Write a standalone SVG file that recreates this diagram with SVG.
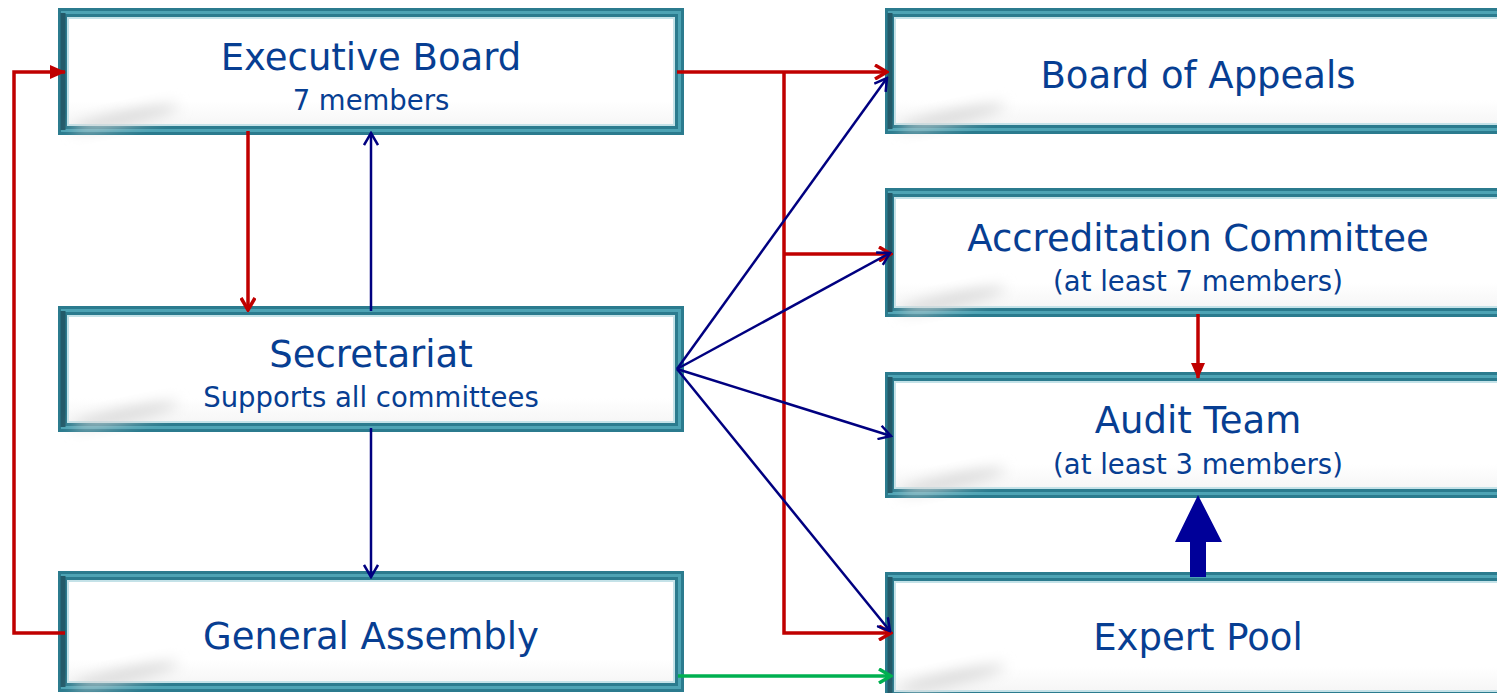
<svg xmlns="http://www.w3.org/2000/svg" width="1497" height="693" viewBox="0 0 1497 693">
<style>
.frame{fill:url(#inner);stroke:#2b7b8e;stroke-width:9}
.mid{fill:none;stroke:#4da3b4;stroke-width:3}
.edge{fill:none;stroke:#235a69;stroke-width:5}
.hl{fill:none;stroke:#c4e2e8;stroke-width:2}
.sh{fill:#d6d6d6;filter:url(#blur)}
.t1{font-family:"DejaVu Sans",Verdana,sans-serif;font-size:37px;fill:#073e92;text-anchor:middle}
.t2{font-family:"DejaVu Sans",Verdana,sans-serif;font-size:27.5px;fill:#073e92;text-anchor:middle}
.red{fill:none;stroke:#c00000;stroke-width:3.5}
.blue{fill:none;stroke:#000080;stroke-width:2.5}
.green{fill:none;stroke:#00b050;stroke-width:3.5}
</style>
<defs>
<linearGradient id="inner" x1="0" y1="0" x2="0" y2="1">
<stop offset="0" stop-color="#ffffff"/>
<stop offset="0.75" stop-color="#ffffff"/>
<stop offset="1" stop-color="#f4f4f4"/>
</linearGradient>
<filter id="blur" x="-50%" y="-100%" width="200%" height="300%"><feGaussianBlur stdDeviation="7"/></filter>
<marker id="arR" markerUnits="userSpaceOnUse" viewBox="0 0 16 16" refX="14" refY="8" markerWidth="16" markerHeight="16" orient="auto">
<path d="M2,1 L14,8 L2,15" fill="none" stroke="#c00000" stroke-width="3.5"/>
</marker>
<marker id="arRf" markerUnits="userSpaceOnUse" viewBox="0 0 16 16" refX="15" refY="8" markerWidth="16" markerHeight="16" orient="auto">
<path d="M0,1 L16,8 L0,15 Z" fill="#c00000"/>
</marker>
<marker id="arB" markerUnits="userSpaceOnUse" viewBox="0 0 16 16" refX="14" refY="8" markerWidth="16" markerHeight="16" orient="auto">
<path d="M2,1 L14,8 L2,15" fill="none" stroke="#000080" stroke-width="2.5"/>
</marker>
<marker id="arG" markerUnits="userSpaceOnUse" viewBox="0 0 16 16" refX="14" refY="8" markerWidth="16" markerHeight="16" orient="auto">
<path d="M2,1 L14,8 L2,15" fill="none" stroke="#00b050" stroke-width="3.5"/>
</marker>
</defs>
<rect width="1497" height="693" fill="#ffffff"/>

<g id="executive-board">
<rect class="frame" x="62.5" y="12.5" width="617" height="118"/>
<rect class="mid" x="62.5" y="12.5" width="617" height="118"/>
<line class="edge" x1="63" y1="13" x2="63" y2="130"/>
<rect class="hl" x="68" y="18" width="606" height="107"/>
<ellipse class="sh" cx="125" cy="118" rx="55" ry="6" transform="rotate(-12 125 118)"/>
<text class="t1" x="371" y="70">Executive Board</text>
<text class="t2" x="371" y="110">7 members</text>
</g>

<g id="secretariat">
<rect class="frame" x="62.5" y="310.5" width="617" height="117"/>
<rect class="mid" x="62.5" y="310.5" width="617" height="117"/>
<line class="edge" x1="63" y1="311" x2="63" y2="427"/>
<rect class="hl" x="68" y="316" width="606" height="106"/>
<ellipse class="sh" cx="125" cy="415" rx="55" ry="6" transform="rotate(-12 125 415)"/>
<text class="t1" x="371" y="367">Secretariat</text>
<text class="t2" x="371" y="407">Supports all committees</text>
</g>

<g id="general-assembly">
<rect class="frame" x="62.5" y="575.5" width="617" height="112"/>
<rect class="mid" x="62.5" y="575.5" width="617" height="112"/>
<line class="edge" x1="63" y1="576" x2="63" y2="687"/>
<rect class="hl" x="68" y="581" width="606" height="101"/>
<ellipse class="sh" cx="125" cy="675" rx="55" ry="6" transform="rotate(-12 125 675)"/>
<text class="t1" x="371" y="649">General Assembly</text>
</g>

<g id="board-of-appeals">
<rect class="frame" x="889.5" y="12.5" width="620" height="117"/>
<rect class="mid" x="889.5" y="12.5" width="620" height="117"/>
<line class="edge" x1="890" y1="13" x2="890" y2="129"/>
<rect class="hl" x="895" y="18" width="610" height="106"/>
<ellipse class="sh" cx="952" cy="117" rx="55" ry="6" transform="rotate(-12 952 117)"/>
<text class="t1" x="1198" y="88">Board of Appeals</text>
</g>

<g id="accreditation-committee">
<rect class="frame" x="889.5" y="192.5" width="620" height="120"/>
<rect class="mid" x="889.5" y="192.5" width="620" height="120"/>
<line class="edge" x1="890" y1="193" x2="890" y2="312"/>
<rect class="hl" x="895" y="198" width="610" height="109"/>
<ellipse class="sh" cx="952" cy="300" rx="55" ry="6" transform="rotate(-12 952 300)"/>
<text class="t1" x="1198" y="251">Accreditation Committee</text>
<text class="t2" x="1198" y="291">(at least 7 members)</text>
</g>

<g id="audit-team">
<rect class="frame" x="889.5" y="376.5" width="620" height="117"/>
<rect class="mid" x="889.5" y="376.5" width="620" height="117"/>
<line class="edge" x1="890" y1="377" x2="890" y2="493"/>
<rect class="hl" x="895" y="382" width="610" height="106"/>
<ellipse class="sh" cx="952" cy="481" rx="55" ry="6" transform="rotate(-12 952 481)"/>
<text class="t1" x="1198" y="433">Audit Team</text>
<text class="t2" x="1198" y="474">(at least 3 members)</text>
</g>

<g id="expert-pool">
<rect class="frame" x="889.5" y="576.5" width="620" height="120"/>
<rect class="mid" x="889.5" y="576.5" width="620" height="120"/>
<line class="edge" x1="890" y1="577" x2="890" y2="693"/>
<rect class="hl" x="895" y="582" width="610" height="109"/>
<ellipse class="sh" cx="952" cy="678" rx="55" ry="6" transform="rotate(-12 952 678)"/>
<text class="t1" x="1198" y="650">Expert Pool</text>
</g>

<g id="connectors">
<path class="red" d="M677,72 H887" marker-end="url(#arR)"/>
<path class="red" d="M784,72 V633 H891" marker-end="url(#arR)"/>
<path class="red" d="M784,254 H891" marker-end="url(#arR)"/>
<path class="red" d="M248,131 V310" marker-end="url(#arR)"/>
<path class="red" d="M65,633 H14 V72 H65" marker-end="url(#arRf)"/>
<path class="red" d="M1198,314 V378" marker-end="url(#arRf)"/>
<path class="blue" d="M371,311 V133" marker-end="url(#arB)"/>
<path class="blue" d="M371,428 V577" marker-end="url(#arB)"/>
<path class="blue" d="M677,369 L887,78" marker-end="url(#arB)"/>
<path class="blue" d="M677,369 L890,253" marker-end="url(#arB)"/>
<path class="blue" d="M677,369 L891,436" marker-end="url(#arB)"/>
<path class="blue" d="M677,369 L890,631" marker-end="url(#arB)"/>
<path class="green" d="M678,676 H891" marker-end="url(#arG)"/>
<path d="M1190,577 V542 H1175 L1198,495 L1222,542 H1206 V577 Z" fill="#000099"/>
</g>
</svg>
